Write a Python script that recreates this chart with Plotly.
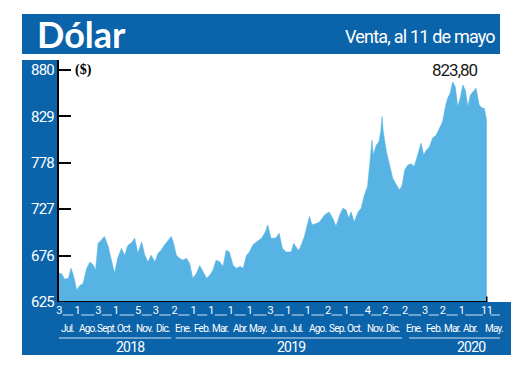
import plotly.graph_objects as go
import pandas as pd

# ---------------- data ----------------
dates = [
    "2018-07-03", "2018-07-07", "2018-07-12", "2018-07-18", "2018-07-22", "2018-07-26", "2018-07-31",
    "2018-08-05", "2018-08-10", "2018-08-16", "2018-08-21", "2018-08-26", "2018-08-30",
    "2018-09-03", "2018-09-08", "2018-09-13", "2018-09-19", "2018-09-24", "2018-09-29",
    "2018-10-04", "2018-10-10", "2018-10-15", "2018-10-20", "2018-10-26", "2018-10-31",
    "2018-11-05", "2018-11-11", "2018-11-16", "2018-11-21", "2018-11-26",
    "2018-12-02", "2018-12-07", "2018-12-12", "2018-12-17", "2018-12-23", "2018-12-28", "2018-12-31",
    "2019-01-05", "2019-01-10", "2019-01-15", "2019-01-21", "2019-01-26", "2019-01-31",
    "2019-02-06", "2019-02-11", "2019-02-16", "2019-02-22", "2019-02-27",
    "2019-03-04", "2019-03-09", "2019-03-15", "2019-03-20", "2019-03-25", "2019-03-30",
    "2019-04-05", "2019-04-10", "2019-04-16", "2019-04-21", "2019-04-26",
    "2019-05-01", "2019-05-06", "2019-05-12", "2019-05-20", "2019-05-26", "2019-05-30",
    "2019-06-04", "2019-06-11", "2019-06-17", "2019-06-22", "2019-06-28",
    "2019-07-06", "2019-07-10", "2019-07-17", "2019-07-20", "2019-07-27",
    "2019-08-04", "2019-08-08", "2019-08-14", "2019-08-20", "2019-08-28",
    "2019-09-04", "2019-09-10", "2019-09-15", "2019-09-21", "2019-09-26",
    "2019-10-01", "2019-10-05", "2019-10-09", "2019-10-14", "2019-10-20", "2019-10-25", "2019-10-30",
    "2019-11-04", "2019-11-08", "2019-11-11", "2019-11-13", "2019-11-18", "2019-11-22",
    "2019-11-25", "2019-11-27", "2019-11-29",
    "2019-12-04", "2019-12-09", "2019-12-14", "2019-12-20", "2019-12-25", "2019-12-29",
    "2020-01-02", "2020-01-07", "2020-01-12", "2020-01-17", "2020-01-23", "2020-01-28",
    "2020-02-01", "2020-02-05", "2020-02-10", "2020-02-15", "2020-02-21", "2020-02-26",
    "2020-03-02", "2020-03-07", "2020-03-10", "2020-03-14", "2020-03-18", "2020-03-22",
    "2020-03-26", "2020-03-30",
    "2020-04-03", "2020-04-07", "2020-04-11", "2020-04-15", "2020-04-19", "2020-04-24", "2020-04-29",
    "2020-05-04", "2020-05-07", "2020-05-11",
]
values = [
    656.5, 656.0, 650.0, 651.0, 662.0, 654.0, 638.0,
    643.0, 645.0, 662.0, 669.0, 666.0, 660.0,
    689.5, 693.0, 697.0, 686.0, 671.0, 656.5,
    673.0, 684.0, 676.0, 687.0, 690.0, 695.0,
    678.5, 691.0, 676.5, 669.0, 676.5,
    669.0, 678.5, 682.0, 687.5, 693.0, 697.0, 691.0,
    676.5, 673.0, 671.0, 673.0, 667.5, 651.0,
    656.5, 665.0, 658.0, 651.0, 654.5,
    660.0, 671.0, 669.0, 664.0, 682.0, 680.0,
    665.0, 662.0, 664.0, 662.0, 676.0,
    680.0, 687.5, 691.0, 695.0, 702.0, 709.6,
    695.0, 695.0, 700.5, 684.0, 680.0,
    680.0, 689.5, 682.0, 684.0, 697.0,
    719.0, 710.0, 711.0, 713.0, 720.6,
    724.0, 717.0, 708.0, 720.6, 728.0,
    726.0, 717.0, 724.0, 713.0, 724.0, 728.0, 742.6,
    751.7, 779.0, 803.0, 786.5, 797.5, 801.0,
    812.0, 828.7, 812.0,
    790.0, 775.6, 761.0, 753.6, 748.0, 753.6,
    770.0, 775.6, 777.0, 774.0, 788.4, 799.4,
    786.5, 791.7, 795.0, 805.0, 808.5, 816.0,
    823.0, 841.5, 849.0, 854.4, 867.0, 861.6,
    839.6, 849.0,
    863.5, 858.0, 839.6, 852.5, 856.0, 860.0, 841.5,
    838.0, 838.0, 823.8,
]

y_ticks = [625, 676, 727, 778, 829, 880]

tick_dates = ["2018-07-03", "2018-08-01", "2018-09-03", "2018-10-01", "2018-11-05", "2018-12-03",
              "2019-01-02", "2019-02-01", "2019-03-01", "2019-04-01", "2019-05-01", "2019-06-03",
              "2019-07-01", "2019-08-01", "2019-09-02", "2019-10-01", "2019-11-04", "2019-12-02",
              "2020-01-02", "2020-02-03", "2020-03-02", "2020-04-01", "2020-05-11"]
tick_text = ["3", "1", "3", "1", "5", "3", "2", "1", "1", "1", "1", "3",
             "1", "1", "2", "1", "4", "2", "2", "3", "2", "1", "11"]

month_dates = ["2018-07-16", "2018-08-17", "2018-09-17", "2018-10-15", "2018-11-16", "2018-12-15",
               "2019-01-16", "2019-02-15", "2019-03-16", "2019-04-16", "2019-05-15", "2019-06-16",
               "2019-07-15", "2019-08-17", "2019-09-17", "2019-10-15", "2019-11-17", "2019-12-15",
               "2020-01-17", "2020-02-17", "2020-03-17", "2020-04-15", "2020-05-23"]
month_labels = ["Jul.", "Ago.", "Sept.", "Oct.", "Nov.", "Dic.",
                "Ene.", "Feb.", "Mar.", "Abr.", "May.", "Jun.",
                "Jul.", "Ago.", "Sep.", "Oct.", "Nov.", "Dic.",
                "Ene.", "Feb.", "Mar.", "Abr.", "May."]

years = ["2018", "2019", "2020"]
year_label_dates = ["2018-10-25", "2019-07-05", "2020-04-17"]
year_spans = [("2018-07-02", "2018-12-28"), ("2019-01-04", "2019-12-29"), ("2020-01-09", "2020-06-01")]

last_label = "823,80"

# ---------------- styling / layout ----------------
# page body has an 8px margin, so screen coords = figure coords + 8
OFF = 8
W, H = 512, 368
L, R, T, B = 59, 500, 60, 302   # plot area in screen pixels
BLUE = "#0b63aa"
AREA = "#57b3e4"
LINEC = "#cfe3f3"
NARROW = "Roboto, Liberation Sans, sans-serif"


def px(x):
    return (x - L) / (R - L)


def py(y):
    return (B - y) / (B - T)


def tight(s, ls=-0.6):
    return f'<span style="letter-spacing:{ls}px">{s}</span>'


fig = go.Figure()
fig.add_trace(go.Scatter(
    x=dates, y=values, mode="lines", fill="tozeroy",
    line=dict(color=AREA, width=0.6), fillcolor=AREA, hoverinfo="skip",
))

shapes = []
# blue boxes
shapes.append(dict(type="rect", xref="paper", yref="paper", x0=px(22), x1=px(500), y0=py(54), y1=py(14),
                   fillcolor=BLUE, line=dict(width=0), layer="below"))
shapes.append(dict(type="rect", xref="paper", yref="paper", x0=px(22), x1=px(58.5), y0=py(355), y1=py(60),
                   fillcolor=BLUE, line=dict(width=0), layer="below"))
shapes.append(dict(type="rect", xref="paper", yref="paper", x0=px(22), x1=px(511), y0=py(355), y1=py(302),
                   fillcolor=BLUE, line=dict(width=0), layer="below"))
# bottom axis line under the area, with end tick
shapes.append(dict(type="line", xref="x", yref="y", x0=dates[0], x1=dates[-1], y0=625, y1=625,
                   line=dict(color="black", width=2)))
shapes.append(dict(type="line", xref="x", yref="y", x0=dates[-1], x1=dates[-1], y0=625, y1=631,
                   line=dict(color="black", width=1.5)))
# underline segments between day numbers
gap = pd.Timedelta(days=6)
tds = pd.to_datetime(tick_dates)
for a, b in zip(tds[:-1], tds[1:]):
    shapes.append(dict(type="line", xref="x", yref="paper", x0=a + gap, x1=b - gap,
                       y0=py(315), y1=py(315), line=dict(color=LINEC, width=1)))
shapes.append(dict(type="line", xref="x", yref="paper", x0=tds[-1] + gap, x1="2020-06-01",
                   y0=py(315), y1=py(315), line=dict(color=LINEC, width=1)))
# year lines
for a, b in year_spans:
    shapes.append(dict(type="line", xref="x", yref="paper", x0=a, x1=b, y0=py(338), y1=py(338),
                       line=dict(color=LINEC, width=1)))

annotations = []
annotations.append(dict(text="<b>Dólar</b>", xref="paper", yref="paper", x=px(35), y=py(34),
                        xanchor="left", yanchor="middle", showarrow=False,
                        font=dict(family="Lato, Noto Sans, sans-serif", size=36, color="white")))
annotations.append(dict(text=tight("Venta, al 11 de mayo", -0.8), xref="paper", yref="paper",
                        x=px(497), y=py(36), xanchor="right", yanchor="middle", showarrow=False,
                        font=dict(family=NARROW, size=18, color="white")))
annotations.append(dict(text="<b>($)</b>", xref="paper", yref="y", x=px(73), y=880,
                        xanchor="left", yanchor="middle", showarrow=False,
                        font=dict(family="Liberation Serif, serif", size=14, color="black")))
annotations.append(dict(text=tight(last_label, -1.0), xref="x", yref="y", x="2020-03-21", y=880,
                        xanchor="center", yanchor="middle", showarrow=False,
                        font=dict(family=NARROW, size=17, color="#1a1a1a")))
for d, m in zip(month_dates, month_labels):
    annotations.append(dict(text=tight(m, -0.8), xref="x", yref="paper", x=d, y=py(328),
                            xanchor="center", yanchor="middle", showarrow=False,
                            font=dict(family=NARROW, size=10, color="white")))
for d, yl in zip(year_label_dates, years):
    annotations.append(dict(text=tight(yl, -0.8), xref="x", yref="paper", x=d, y=py(347),
                            xanchor="center", yanchor="middle", showarrow=False,
                            font=dict(family=NARROW, size=14, color="white")))

fig.update_layout(
    width=W, height=H,
    margin=dict(l=L - OFF, r=W - (R - OFF), t=T - OFF, b=H - (B - OFF), pad=0),
    paper_bgcolor="white", plot_bgcolor="white",
    showlegend=False,
    shapes=shapes, annotations=annotations,
    xaxis=dict(type="date", range=["2018-07-03", "2020-06-01"], showgrid=False, zeroline=False,
               showline=False, tickmode="array", tickvals=tick_dates,
               ticktext=[tight(t, -0.5) for t in tick_text], ticks="",
               tickangle=0, tickfont=dict(family=NARROW, size=11, color="white"), fixedrange=True),
    yaxis=dict(range=[625, 891], showgrid=False, zeroline=False, showline=True, linecolor="black",
               linewidth=2, tickmode="array", tickvals=y_ticks,
               ticktext=[tight(str(v), -0.8) for v in y_ticks], ticks="inside", ticklen=12,
               tickwidth=2, tickcolor="black",
               tickfont=dict(family=NARROW, size=15, color="white"), fixedrange=True),
)

fig.write_html("out.html")
